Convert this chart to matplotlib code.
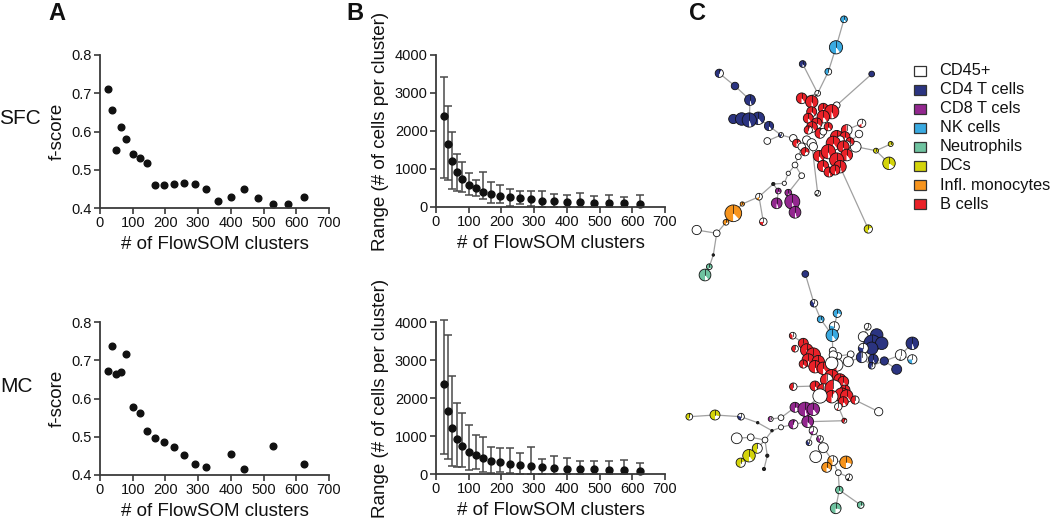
import numpy as np
import matplotlib
matplotlib.use("Agg")
import matplotlib.pyplot as plt
from matplotlib.patches import Wedge, Circle, Rectangle

plt.rcParams['font.family'] = ['Liberation Sans', 'DejaVu Sans']

# ---------------- data ----------------
clusters = [25, 36, 49, 64, 81, 100, 121, 144, 169, 196, 225, 256, 289, 324, 361,
            400, 441, 484, 529, 576, 625]
nan = np.nan
fscore_sfc = [0.710, 0.657, 0.551, 0.612, 0.580, 0.540, 0.532, 0.518, 0.460, 0.460, 0.462,
              0.466, 0.464, 0.450, 0.417, 0.430, 0.450, 0.427, 0.410, 0.411, 0.428]
fscore_mc = [0.671, 0.736, 0.663, 0.668, 0.717, 0.579, 0.562, 0.515, 0.497, 0.486, 0.474,
             0.452, 0.428, 0.421, nan, 0.454, 0.415, nan, 0.475, nan, 0.429]

range_sfc_mean = [2388, 1654, 1216, 927, 735, 586, 490, 402, 341, 297, 262, 227, 201, 165,
                  155, 135, 125, 114, 105, 96, 87]
range_sfc_upper = [3420, 2651, 1986, 1400, 1172, 884, 709, 927, 656, 569, 464, 429, 429, 420,
                   341, 315, 359, 297, 324, 271, 306]
range_sfc_lower = [750, 700, 466, 422, 387, 325, 290, 220, 105, 105, 18, 70, 18, 5, 5, 5, 5,
                   5, 5, 5, 5]

range_mc_mean = [2376, 1651, 1214, 926, 734, 585, 489, 410, 349, 306, 262, 227, 201, 180,
                 157, 140, 122, 122, 105, 105, 87]
range_mc_upper = [4050, 3651, 2585, 1878, 1598, 1301, 1031, 961, 699, 672, 672, 541, 699, 400,
                  472, 428, 332, 349, 340, 367, 280]
range_mc_lower = [524, 402, 210, 175, 192, 105, 122, 61, 26, 44, 17, 9, 5, 5, 5, 5, 5, 5, 5,
                  5, 5]

cell_types = ['CD45+', 'CD4 T cells', 'CD8 T cels', 'NK cells', 'Neutrophils', 'DCs',
              'Infl. monocytes', 'B cells']
type_codes = ['W', 'C4', 'C8', 'NK', 'N', 'DC', 'M', 'B']
type_colors = {'W': '#ffffff', 'C4': '#2b3481', 'C8': '#93278f', 'NK': '#3aaae1',
               'N': '#6fc3a0', 'DC': '#d4d40a', 'M': '#f7941d', 'B': '#ea2128',
               'K': '#222222'}

# FlowSOM trees: (id, x, y, radius, dominant type, fraction of dominant type)
tree_sfc_nodes = [
    ('u_nk0', 844.0, 19.3, 2.7, 'NK', 0.9), ('u_nk1', 836.0, 47.3, 5.3, 'NK', 0.9),
    ('u_nk2', 828.3, 71.7, 2.7, 'NK', 0.6), ('u_c4a', 802.7, 64.0, 2.7, 'C4', 0.9),
    ('u_c4b', 871.7, 74.0, 2.3, 'C4', 1.0), ('u_c4c', 719.3, 73.3, 3.3, 'C4', 0.6),
    ('u_c4d', 735.0, 86.0, 3.0, 'C4', 1.0), ('u_c4e', 750.0, 100.0, 4.3, 'C4', 0.95),
    ('u_c4f', 733.3, 119.0, 3.7, 'C4', 1.0), ('u_c4g', 741.7, 119.0, 5.0, 'C4', 1.0),
    ('u_c4i', 758.3, 118.3, 5.0, 'C4', 0.9), ('u_c4h', 749.3, 120.0, 5.7, 'C4', 0.95),
    ('u_c4j', 769.0, 126.0, 3.7, 'C4', 0.9), ('u_w1', 781.0, 135.0, 2.0, 'C4', 0.4),
    ('u_w2', 767.3, 141.0, 2.7, 'W', 1.0), ('u_w3', 817.7, 93.3, 2.3, 'K', 0.15),
    ('u_w4', 836.7, 105.3, 2.7, 'W', 1.0), ('u_w5', 861.7, 123.3, 3.3, 'B', 0.15),
    ('u_w6', 859.0, 134.0, 3.0, 'W', 1.0), ('u_w7', 855.7, 146.7, 4.3, 'W', 1.0),
    ('u_dc1', 876.0, 150.7, 2.0, 'DC', 0.9), ('u_dc2', 890.7, 144.0, 2.0, 'DC', 0.9),
    ('u_dc3', 889.0, 163.3, 5.0, 'DC', 0.85), ('u_dc4', 868.3, 229.0, 3.3, 'DC', 0.7),
    ('u_w8', 817.7, 193.3, 2.3, 'K', 0.2),
    ('u_b1', 801.7, 98.3, 4.3, 'B', 0.9), ('u_b2', 811.7, 101.7, 5.0, 'B', 0.95),
    ('u_b3', 811.7, 111.7, 4.0, 'B', 0.9), ('u_b4', 823.3, 108.3, 4.0, 'B', 0.9),
    ('u_b5', 831.7, 111.7, 5.7, 'B', 0.95), ('u_b6', 808.3, 118.3, 4.0, 'B', 0.9),
    ('u_b8', 823.3, 116.7, 5.0, 'B', 0.9), ('u_b7', 816.7, 123.3, 4.3, 'B', 0.85),
    ('u_b25', 812.0, 127.0, 4.3, 'B', 0.9), ('u_b9', 808.3, 130.0, 3.3, 'B', 0.6),
    ('u_b10', 820.0, 133.3, 4.0, 'B', 0.7),
    ('u_wc11', 823.3, 131.7, 2.7, 'W', 1.0), ('u_b24', 828.3, 126.7, 3.3, 'B', 0.9),
    ('u_b11', 836.7, 136.7, 5.0, 'B', 0.9), ('u_b12', 846.7, 130.0, 4.3, 'B', 0.5),
    ('u_b22', 845.0, 136.7, 4.0, 'B', 0.9), ('u_b23', 850.0, 141.7, 3.3, 'B', 0.9),
    ('u_wc9', 840.0, 140.0, 3.3, 'W', 1.0), ('u_wc10', 846.7, 145.0, 3.3, 'W', 1.0),
    ('u_b26', 819.0, 156.0, 4.5, 'B', 0.9), ('u_b27', 823.0, 166.0, 4.5, 'B', 0.9),
    ('u_b13', 833.3, 143.3, 5.7, 'B', 0.9), ('u_b14', 843.3, 146.7, 4.7, 'B', 0.95),
    ('u_b15', 828.3, 151.7, 5.7, 'B', 0.95), ('u_b17', 846.7, 155.0, 4.7, 'B', 0.9),
    ('u_b28', 829.0, 172.0, 4.0, 'B', 0.95),
    ('u_b16', 836.7, 160.0, 5.7, 'B', 0.95), ('u_b18', 840.0, 166.7, 5.0, 'B', 0.95),
    ('u_b19', 835.0, 170.0, 4.0, 'B', 0.95),
    ('u_wc1', 793.3, 138.3, 3.0, 'W', 1.0), ('u_b20', 796.7, 143.3, 3.3, 'B', 0.7),
    ('u_wc2', 806.7, 140.0, 3.3, 'W', 1.0), ('u_wc3', 811.7, 143.3, 3.7, 'W', 1.0),
    ('u_wc12', 813.3, 146.7, 3.3, 'W', 1.0), ('u_wc4', 801.7, 146.7, 3.0, 'W', 1.0),
    ('u_b21', 805.0, 151.7, 3.3, 'B', 0.8), ('u_wc5', 798.3, 156.7, 2.3, 'W', 1.0),
    ('u_wc6', 795.0, 165.0, 2.3, 'W', 1.0), ('u_wc7', 801.7, 175.7, 2.3, 'W', 1.0),
    ('u_wc8', 788.3, 173.3, 1.7, 'W', 1.0),
    ('u_l1', 784.3, 183.3, 1.7, 'W', 1.0), ('u_l2', 773.3, 184.0, 1.3, 'K', 1.0),
    ('u_l3', 759.0, 196.7, 2.7, 'M', 0.15), ('u_l4', 742.3, 204.0, 1.7, 'M', 0.9),
    ('u_l5', 733.3, 213.3, 6.7, 'M', 0.88), ('u_l6', 726.0, 222.3, 2.3, 'M', 0.8),
    ('u_l7', 716.7, 233.3, 2.7, 'W', 1.0), ('u_l8', 696.7, 230.0, 3.7, 'W', 1.0),
    ('u_l9', 713.3, 255.0, 1.0, 'K', 1.0), ('u_n1', 709.3, 266.7, 2.3, 'N', 0.9),
    ('u_n2', 705.0, 275.0, 4.7, 'N', 0.9), ('u_l10', 763.3, 221.7, 3.0, 'B', 0.25),
    ('u_c8a', 778.3, 191.0, 2.3, 'C8', 0.9), ('u_c8b', 776.7, 203.3, 4.3, 'C8', 0.95),
    ('u_c8e', 788.3, 192.7, 2.7, 'C8', 0.9), ('u_c8c', 792.3, 201.7, 6.0, 'C8', 0.95),
    ('u_c8d', 795.0, 212.3, 4.7, 'C8', 0.95),
]
tree_sfc_edges = [
    ('u_nk0', 'u_nk1'), ('u_nk1', 'u_nk2'), ('u_nk2', 'u_w3'), ('u_c4a', 'u_w3'),
    ('u_w3', 'u_b1'), ('u_c4b', 'u_w4'), ('u_w4', 'u_b4'), ('u_c4c', 'u_c4d'),
    ('u_c4d', 'u_c4e'), ('u_c4e', 'u_c4h'), ('u_c4f', 'u_c4g'), ('u_c4g', 'u_c4h'),
    ('u_c4h', 'u_c4i'), ('u_c4i', 'u_c4j'), ('u_c4j', 'u_w1'), ('u_w2', 'u_w1'),
    ('u_w1', 'u_wc1'), ('u_w5', 'u_b12'), ('u_w6', 'u_b23'), ('u_w7', 'u_wc10'),
    ('u_w7', 'u_dc1'), ('u_dc1', 'u_dc2'), ('u_dc1', 'u_dc3'), ('u_dc4', 'u_b18'),
    ('u_w8', 'u_wc3'), ('u_wc1', 'u_wc4'), ('u_wc4', 'u_wc5'), ('u_wc5', 'u_wc6'),
    ('u_wc6', 'u_wc7'), ('u_wc6', 'u_wc8'), ('u_wc8', 'u_l1'), ('u_l1', 'u_l2'),
    ('u_l2', 'u_l3'), ('u_l3', 'u_l4'), ('u_l4', 'u_l5'), ('u_l5', 'u_l6'),
    ('u_l6', 'u_l7'), ('u_l7', 'u_l8'), ('u_l7', 'u_l9'), ('u_l9', 'u_n1'),
    ('u_n1', 'u_n2'), ('u_l3', 'u_l10'), ('u_c8a', 'u_l2'), ('u_c8a', 'u_c8b'),
    ('u_c8e', 'u_c8c'), ('u_c8c', 'u_c8d'), ('u_c8e', 'u_wc7'),
]

tree_mc_nodes = [
    ('v_c4top', 805.3, 274.0, 2.7, 'C4', 1.0), ('v_w1', 814.0, 303.3, 3.0, 'C4', 0.4),
    ('v_nk1', 820.7, 319.3, 2.7, 'NK', 0.9), ('v_nk2', 837.3, 313.3, 3.3, 'NK', 0.8),
    ('v_nk3', 834.3, 326.7, 4.0, 'NK', 0.3), ('v_nk4', 832.3, 335.3, 5.0, 'NK', 0.9),
    ('v_w2', 832.7, 350.7, 2.7, 'W', 1.0), ('v_w3', 838.3, 356.0, 2.7, 'W', 1.0),
    ('v_w4', 850.7, 354.3, 2.7, 'W', 1.0), ('v_w5', 848.3, 361.7, 4.0, 'W', 1.0),
    ('v_w6', 867.7, 326.7, 2.7, 'K', 0.1),
    ('v_c1', 863.3, 336.7, 4.0, 'W', 1.0), ('v_c2', 876.7, 335.0, 5.0, 'C4', 1.0),
    ('v_c3', 872.3, 343.3, 6.7, 'C4', 0.95), ('v_c4', 881.7, 343.3, 5.0, 'C4', 1.0),
    ('v_c5', 871.7, 348.3, 5.0, 'C4', 1.0), ('v_c6', 863.3, 348.3, 4.0, 'C4', 0.3),
    ('v_c7', 861.7, 357.3, 4.3, 'C4', 0.5), ('v_c8', 873.3, 359.3, 4.0, 'C4', 0.95),
    ('v_c9', 871.7, 365.7, 2.7, 'C4', 0.6), ('v_c10', 884.3, 361.0, 3.3, 'C4', 1.0),
    ('v_c11', 896.7, 369.3, 4.0, 'C4', 1.0), ('v_c12', 900.7, 355.0, 4.3, 'K', 0.05),
    ('v_c13', 912.3, 343.3, 5.0, 'C4', 0.95), ('v_c14', 912.3, 359.3, 3.7, 'NK', 0.25),
    ('v_b3', 792.7, 335.7, 2.7, 'B', 0.4), ('v_b1', 803.3, 343.3, 4.0, 'B', 0.9),
    ('v_b2', 795.0, 348.7, 2.7, 'B', 0.5), ('v_b4', 806.7, 350.0, 5.0, 'B', 0.9),
    ('v_b5', 813.3, 355.0, 5.7, 'B', 0.9), ('v_b6', 808.3, 360.0, 5.0, 'B', 0.95),
    ('v_b7', 818.3, 361.7, 5.0, 'B', 0.9), ('v_b8', 803.3, 364.0, 3.3, 'B', 0.9),
    ('v_b9', 815.0, 366.7, 5.0, 'B', 0.95), ('v_b10', 823.3, 368.3, 5.0, 'B', 0.9),
    ('v_w8', 833.3, 355.0, 3.3, 'W', 1.0), ('v_b11', 836.7, 365.0, 5.0, 'B', 0.4),
    ('v_w7', 831.7, 363.3, 5.0, 'W', 1.0),
    ('v_b12', 831.7, 376.7, 5.7, 'B', 0.95), ('v_b13', 826.7, 380.0, 5.0, 'B', 0.5),
    ('v_b14', 840.0, 380.0, 5.0, 'B', 0.95), ('v_b15', 843.3, 381.7, 4.3, 'B', 0.9),
    ('v_b22', 815.0, 386.0, 4.0, 'B', 0.9), ('v_b24', 793.3, 386.7, 3.0, 'B', 0.5),
    ('v_b16', 823.3, 390.0, 5.0, 'B', 0.5), ('v_b17', 833.3, 388.3, 6.7, 'B', 0.5),
    ('v_b25', 845.0, 390.0, 4.0, 'B', 0.9), ('v_b18', 841.7, 395.0, 5.7, 'B', 0.95),
    ('v_b19', 846.7, 396.0, 5.0, 'B', 0.9), ('v_b20', 831.7, 396.7, 5.0, 'B', 0.6),
    ('v_w9', 820.0, 396.0, 5.7, 'W', 1.0), ('v_b21', 843.3, 401.7, 4.0, 'B', 0.9),
    ('v_b23', 855.0, 400.0, 3.3, 'B', 0.5), ('v_w10', 838.3, 406.7, 3.0, 'B', 0.1),
    ('v_w11', 878.7, 411.7, 3.3, 'W', 1.0), ('v_k1', 844.3, 420.7, 2.0, 'B', 0.7),
    ('v_8c', 795.0, 407.3, 4.0, 'C8', 0.8), ('v_8a', 805.0, 409.3, 5.7, 'C8', 0.95),
    ('v_8b', 813.3, 409.3, 5.0, 'C8', 0.9), ('v_8d', 807.7, 421.7, 4.7, 'C8', 0.9),
    ('v_8e', 793.3, 424.3, 3.7, 'C8', 0.6), ('v_8f', 770.7, 419.0, 2.0, 'C8', 0.5),
    ('v_w12', 781.0, 417.7, 2.3, 'W', 1.0), ('v_w13', 781.0, 427.3, 2.0, 'W', 1.0),
    ('v_w14', 813.3, 430.7, 3.3, 'C8', 0.2), ('v_w15', 809.0, 442.7, 2.3, 'C4', 0.4),
    ('v_w16', 820.0, 439.0, 2.7, 'C8', 0.4), ('v_w17', 823.3, 447.7, 4.0, 'W', 1.0),
    ('v_w18', 815.7, 456.7, 4.7, 'W', 1.0),
    ('v_m1', 832.7, 460.7, 4.0, 'M', 0.4), ('v_m2', 846.0, 462.3, 5.0, 'M', 0.8),
    ('v_m3', 826.7, 467.3, 4.0, 'M', 0.85), ('v_w19', 838.3, 472.7, 2.3, 'W', 1.0),
    ('v_w20', 849.0, 477.3, 2.7, 'K', 0.15),
    ('v_n1', 839.3, 490.0, 3.0, 'N', 0.9), ('v_n2', 860.7, 505.0, 2.7, 'N', 0.8),
    ('v_n3', 835.7, 508.3, 4.3, 'N', 0.8),
    ('v_d1', 689.3, 416.7, 2.7, 'DC', 0.6), ('v_d2', 715.0, 415.0, 4.0, 'DC', 0.8),
    ('v_x1', 741.0, 416.7, 2.7, 'C4', 0.3), ('v_k2', 757.7, 422.7, 1.0, 'K', 1.0),
    ('v_k3', 772.0, 430.7, 1.0, 'K', 1.0), ('v_x2', 765.0, 440.0, 2.3, 'W', 1.0),
    ('v_x3', 750.7, 437.3, 2.7, 'W', 1.0), ('v_x4', 736.7, 438.3, 4.3, 'W', 1.0),
    ('v_d3', 757.3, 448.3, 4.0, 'DC', 0.5), ('v_d4', 749.0, 455.7, 5.0, 'DC', 0.9),
    ('v_d5', 740.7, 462.7, 3.7, 'DC', 0.7), ('v_k4', 767.3, 455.7, 1.3, 'K', 1.0),
    ('v_k5', 764.0, 469.0, 1.3, 'K', 1.0),
]
tree_mc_edges = [
    ('v_c4top', 'v_w1'), ('v_w1', 'v_nk1'), ('v_nk1', 'v_nk4'), ('v_nk2', 'v_nk3'),
    ('v_nk3', 'v_nk4'), ('v_nk4', 'v_w2'), ('v_w2', 'v_w8'), ('v_w3', 'v_w4'),
    ('v_w4', 'v_w5'), ('v_w5', 'v_c7'), ('v_c7', 'v_c6'), ('v_c6', 'v_c1'),
    ('v_c1', 'v_w6'), ('v_c9', 'v_c10'), ('v_c10', 'v_c11'), ('v_c10', 'v_c12'),
    ('v_c12', 'v_c13'), ('v_c12', 'v_c14'), ('v_c7', 'v_c9'), ('v_b3', 'v_b1'),
    ('v_b24', 'v_b22'), ('v_b23', 'v_w11'), ('v_w10', 'v_k1'), ('v_8d', 'v_k1'),
    ('v_w12', 'v_8c'), ('v_8f', 'v_w12'), ('v_w13', 'v_8e'), ('v_8e', 'v_8d'),
    ('v_k3', 'v_w13'), ('v_k2', 'v_k3'), ('v_x1', 'v_k2'), ('v_d2', 'v_x1'),
    ('v_d1', 'v_d2'), ('v_k3', 'v_x2'), ('v_x2', 'v_x3'), ('v_x3', 'v_x4'),
    ('v_x2', 'v_k4'), ('v_k4', 'v_k5'), ('v_d3', 'v_x2'), ('v_d3', 'v_d4'),
    ('v_d4', 'v_d5'), ('v_8d', 'v_w14'), ('v_w14', 'v_w16'), ('v_w15', 'v_w14'),
    ('v_w16', 'v_w17'), ('v_w17', 'v_w18'), ('v_w17', 'v_m1'), ('v_m1', 'v_w19'),
    ('v_m2', 'v_m1'), ('v_m3', 'v_m1'), ('v_w19', 'v_n1'), ('v_w19', 'v_w20'),
    ('v_n1', 'v_n3'), ('v_n1', 'v_n2'), ('v_8a', 'v_w9'),
]

# ---------------- figure ----------------
W, H = 1050, 521
fig = plt.figure(figsize=(W / 100, H / 100), dpi=100)

SPINE = '#3a3a3a'
NODE_SCALE = 1.25


def px_axes(x0, y0, x1, y1):
    return fig.add_axes([x0 / W, 1 - y1 / H, (x1 - x0) / W, (y1 - y0) / H])


def style(ax):
    for s in ['top', 'right']:
        ax.spines[s].set_visible(False)
    for s in ['left', 'bottom']:
        ax.spines[s].set_color(SPINE)
        ax.spines[s].set_linewidth(1.3)
    ax.tick_params(direction='out', length=4, width=1.2, color=SPINE,
                   labelsize=10.5, pad=2, labelcolor='#111111')
    ax.set_xlim(0, 700)
    ax.set_xticks(range(0, 701, 100))
    ax.set_xlabel('# of FlowSOM clusters', fontsize=13.5, labelpad=4, color='#111111')


def fscore_panel(ax, vals):
    style(ax)
    ax.plot(clusters, vals, 'o', color='#111111', markersize=4.8, clip_on=False)
    ax.set_ylim(0.4, 0.8)
    ax.set_yticks([0.4, 0.5, 0.6, 0.7, 0.8])
    ax.set_yticklabels(['0.4', '0.5', '0.6', '0.7', '0.8'])
    ax.set_ylabel('f-score', fontsize=13.5, labelpad=4, color='#111111')


def range_panel(ax, mean, lower, upper):
    style(ax)
    mean = np.array(mean, float)
    err = [mean - np.array(lower, float), np.array(upper, float) - mean]
    ax.errorbar(clusters, mean, yerr=err, fmt='o', color='#111111', markersize=5,
                ecolor='#4a4a4a', elinewidth=1.1, capsize=3, capthick=1.1, clip_on=False)
    ax.set_ylim(0, 4000)
    ax.set_yticks([0, 1000, 2000, 3000, 4000])
    ax.set_ylabel('Range (# of cells per cluster)', fontsize=13.5, labelpad=4,
                  color='#111111')


axA1 = px_axes(100, 55, 329, 208)
fscore_panel(axA1, fscore_sfc)
axA2 = px_axes(100, 322, 329, 475)
fscore_panel(axA2, fscore_mc)
axB1 = px_axes(436, 55, 665, 207)
range_panel(axB1, range_sfc_mean, range_sfc_lower, range_sfc_upper)
axB2 = px_axes(436, 322, 665, 474)
range_panel(axB2, range_mc_mean, range_mc_lower, range_mc_upper)

# Panel letters and row labels
for lab, x in [('A', 57), ('B', 355), ('C', 697)]:
    fig.text(x / W, 1 - 13 / H, lab, fontsize=17, fontweight='bold', ha='center',
             va='center', color='#111111')
fig.text(20 / W, 1 - 119 / H, 'SFC', fontsize=15, ha='center', va='center', color='#111111')
fig.text(17 / W, 1 - 387 / H, 'MC', fontsize=15, ha='center', va='center', color='#111111')

# ---------------- panel C ----------------
axC = px_axes(680, 0, 1050, 521)
axC.set_xlim(680, 1050)
axC.set_ylim(521, 0)
axC.axis('off')


def draw_tree(nodes, edges):
    pos = {n[0]: (n[1], n[2]) for n in nodes}
    for a, b in edges:
        (x0, y0), (x1, y1) = pos[a], pos[b]
        axC.plot([x0, x1], [y0, y1], color='#a0a0a0', lw=0.9, zorder=1,
                 solid_capstyle='round')
    z = 2
    for nid, x, y, r, t, f in nodes:
        r = r * NODE_SCALE
        if f >= 0.999 or t == 'W':
            axC.add_patch(Circle((x, y), r, facecolor=type_colors[t], edgecolor='#111111',
                                 lw=0.6, zorder=z))
        else:
            axC.add_patch(Wedge((x, y), r, 90, 90 + 360 * f, facecolor=type_colors[t],
                                edgecolor='none', zorder=z))
            axC.add_patch(Wedge((x, y), r, 90 + 360 * f, 450, facecolor='white',
                                edgecolor='none', zorder=z))
            axC.add_patch(Circle((x, y), r, facecolor='none', edgecolor='#111111',
                                 lw=0.6, zorder=z + 0.5))
            axC.plot([x, x], [y, y - r], color='#111111', lw=0.5, zorder=z + 0.5)
        z += 1


draw_tree(tree_sfc_nodes, tree_sfc_edges)
draw_tree(tree_mc_nodes, tree_mc_edges)

# legend
for i, (lab, code) in enumerate(zip(cell_types, type_codes)):
    y = 70.5 + i * 19.1
    axC.add_patch(Rectangle((914, y - 5), 11.5, 10, facecolor=type_colors[code],
                            edgecolor='#333333', lw=0.9, zorder=500))
    axC.text(939.5, y, lab, fontsize=11.8, va='center', ha='left', color='#111111',
             zorder=500)

fig.savefig('out.png', dpi=100)
